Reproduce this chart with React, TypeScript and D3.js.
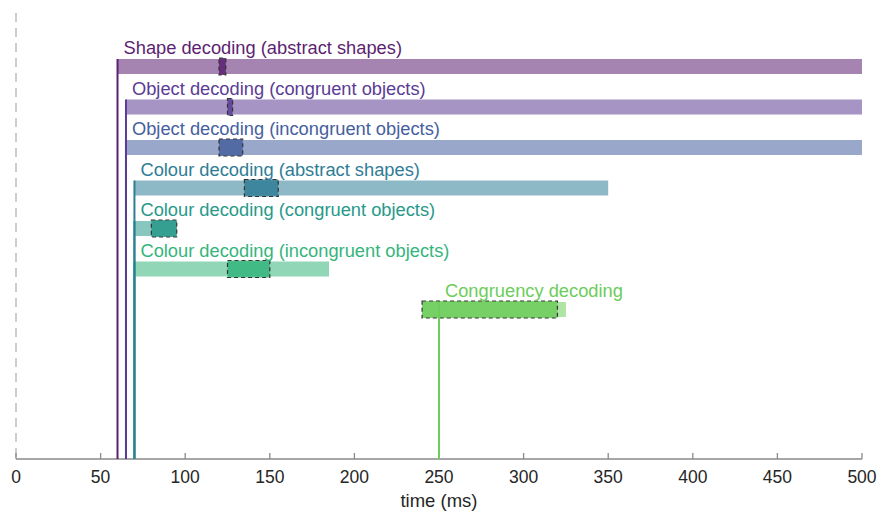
import { useEffect, useRef } from "react";
import * as d3 from "d3";

// one entry per decoding analysis, top to bottom
const labels = [
  "Shape decoding (abstract shapes)",
  "Object decoding (congruent objects)",
  "Object decoding (incongruent objects)",
  "Colour decoding (abstract shapes)",
  "Colour decoding (congruent objects)",
  "Colour decoding (incongruent objects)",
  "Congruency decoding",
];
const onsets = [60, 65, 65, 70, 70, 70, 250];
const sigStart = [60, 65, 65, 70, 70, 70, 240];
const sigEnd = [500, 500, 500, 350, 95, 185, 325];
const peakStart = [120, 125, 120, 135, 80, 125, 240];
const peakEnd = [124, 128, 134, 155, 95, 150, 320];
const colors = ["#5c1f72", "#5b3c94", "#45609e", "#2f7d95", "#27998a", "#35b57c", "#6ccd5a"];
const xTicks = [0, 50, 100, 150, 200, 250, 300, 350, 400, 450, 500];

const W = 889;
const H = 512;
const FONT = "'Liberation Sans', Arial, Helvetica, sans-serif";

export default function App() {
  const svgRef = useRef<SVGSVGElement>(null);

  useEffect(() => {
    if (!svgRef.current) return;
    const svg = d3.select(svgRef.current);
    svg.selectAll("*").remove();

    const axisY = 459;
    const barH = 15;

    const x = d3.scaleLinear().domain([0, 500]).range([16, 862]);
    const y = d3
      .scalePoint<number>()
      .domain(d3.range(labels.length))
      .range([59, 302]);

    // dashed zero line
    svg
      .append("line")
      .attr("x1", x(0))
      .attr("x2", x(0))
      .attr("y1", 13)
      .attr("y2", axisY)
      .attr("stroke", "#bdbdbd")
      .attr("stroke-width", 1.5)
      .attr("stroke-dasharray", "9,6");

    // axis
    const ax = svg.append("g").attr("transform", `translate(0,${axisY})`);
    ax.append("line")
      .attr("x1", x(0))
      .attr("x2", x(500))
      .attr("stroke", "#8a8a8a")
      .attr("stroke-width", 1.3);
    ax.selectAll("line.tick")
      .data(xTicks)
      .join("line")
      .attr("class", "tick")
      .attr("x1", (d) => x(d))
      .attr("x2", (d) => x(d))
      .attr("y1", 0)
      .attr("y2", -6)
      .attr("stroke", "#8a8a8a")
      .attr("stroke-width", 1.3);
    ax.selectAll("text")
      .data(xTicks)
      .join("text")
      .attr("x", (d) => x(d))
      .attr("y", 24)
      .attr("text-anchor", "middle")
      .attr("font-family", FONT)
      .attr("font-size", 17.5)
      .attr("fill", "#262626")
      .text((d) => d);
    svg
      .append("text")
      .attr("x", (x(0) + x(500)) / 2)
      .attr("y", 507)
      .attr("text-anchor", "middle")
      .attr("font-family", FONT)
      .attr("font-size", 18.5)
      .attr("fill", "#262626")
      .text("time (ms)");

    // draw bottom rows first so upper rows' onset lines sit on top
    const idx = d3.range(labels.length).reverse();
    const rows = svg
      .selectAll("g.row")
      .data(idx)
      .join("g")
      .attr("class", "row");

    rows
      .append("rect")
      .attr("x", (i) => x(sigStart[i]))
      .attr("y", (i) => y(i)!)
      .attr("width", (i) => x(sigEnd[i]) - x(sigStart[i]))
      .attr("height", barH)
      .attr("fill", (i) => colors[i])
      .attr("fill-opacity", 0.55);

    rows
      .append("rect")
      .attr("x", (i) => x(peakStart[i]))
      .attr("y", (i) => y(i)! - 1)
      .attr("width", (i) => x(peakEnd[i]) - x(peakStart[i]))
      .attr("height", barH + 2)
      .attr("fill", (i) => colors[i])
      .attr("fill-opacity", 0.85)
      .attr("stroke", "#333")
      .attr("stroke-width", 1.2)
      .attr("stroke-dasharray", "4,3");

    rows
      .append("line")
      .attr("x1", (i) => x(onsets[i]))
      .attr("x2", (i) => x(onsets[i]))
      .attr("y1", (i) => y(i)!)
      .attr("y2", axisY)
      .attr("stroke", (i) => colors[i])
      .attr("stroke-width", 2);

    rows
      .append("text")
      .attr("x", (i) => x(onsets[i]) + 6)
      .attr("y", (i) => y(i)! - 5)
      .attr("font-family", FONT)
      .attr("font-size", 18.3)
      .attr("fill", (i) => colors[i])
      .text((i) => labels[i]);
  }, []);

  return (
    <svg
      ref={svgRef}
      width={W}
      height={H}
      style={{ position: "absolute", left: 0, top: 0, background: "#fff" }}
    />
  );
}
